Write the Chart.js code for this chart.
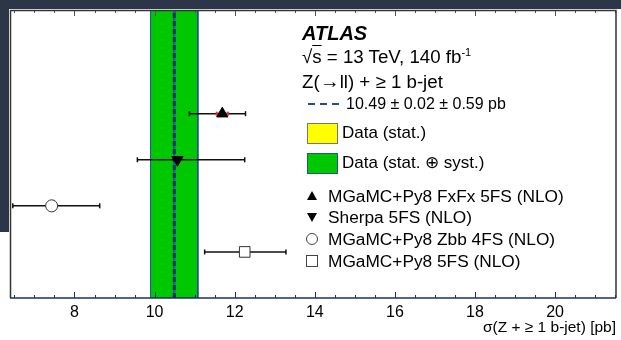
<!DOCTYPE html>
<html>
<head>
<meta charset="utf-8">
<script src="https://cdn.jsdelivr.net/npm/chart.js@4.4.1/dist/chart.umd.min.js"></script>
<style>
  html, body { margin: 0; padding: 0; background: #fff; }
  #wrap { position: relative; width: 621px; height: 340px; overflow: hidden;
          font-family: "Liberation Sans", Arial, sans-serif; color: #000; }
  .bar { position: absolute; background: #2d3548; }
  canvas { position: absolute; left: 0; top: 0; }
  .lab { position: absolute; white-space: nowrap; }
  .box { position: absolute; box-sizing: border-box; }
</style>
</head>
<body>
<div id="wrap">
  <div class="bar" style="left:0;top:0;width:621px;height:9px"></div>
  <div class="bar" style="left:0;top:0;width:9px;height:232px"></div>
  <canvas id="chart" width="621" height="340"></canvas>

  <div class="lab" style="left:302px;top:21px;font-size:20px;line-height:24px;font-weight:bold;font-style:italic">ATLAS</div>
  <div class="lab" style="left:302px;top:46px;font-size:18.7px;line-height:22px">√<span style="text-decoration:overline">s</span> = 13 TeV, 140 fb<sup style="font-size:11px;vertical-align:7px;line-height:0">-1</sup></div>
  <div class="lab" style="left:302px;top:70px;font-size:18.7px;line-height:22px">Z(<span style="font-size:20px">→</span>ll) + ≥ 1 b-jet</div>
  <svg class="box" style="left:307px;top:100px" width="36" height="8"><line x1="1" y1="4" x2="35" y2="4" stroke="#2b4c8c" stroke-width="2" stroke-dasharray="7 5"/></svg>
  <div class="lab" id="dataLabel" style="left:346px;top:94px;font-size:16px;line-height:20px"></div>
  <div class="box" style="left:307px;top:123px;width:31px;height:21px;background:#ffff00;border:1px solid #777"></div>
  <div class="lab" style="left:342px;top:122px;font-size:17px;line-height:22px">Data (stat.)</div>
  <div class="box" style="left:307px;top:153px;width:31px;height:21px;background:#00c800;border:1.5px solid #1b5e6e"></div>
  <div class="lab" style="left:342px;top:152px;font-size:17px;line-height:22px">Data (stat. ⊕ syst.)</div>
  <div id="modelKey"></div>
</div>

<script>
// measured cross-section (pb)
const dataValue = 10.49;
const dataStat = 0.02;
const dataSyst = 0.59;

// predictions
const models = ["MGaMC+Py8 FxFx 5FS (NLO)", "Sherpa 5FS (NLO)", "MGaMC+Py8 Zbb 4FS (NLO)", "MGaMC+Py8 5FS (NLO)"];
const modelRow = [4, 3, 2, 1];
const modelValue = [11.69, 10.57, 7.43, 12.25];
const modelLow = [10.87, 9.57, 6.46, 11.25];
const modelHigh = [12.27, 12.25, 8.63, 13.28];
// small red inner band on the FxFx prediction
const fxfxInner = [11.55, 11.83];

// axis
const xMin = 6.39;
const xMax = 21.52;
const yMax = 6.25;
const xTicks = [8, 10, 12, 14, 16, 18, 20];
const xMinorStep = 0.5;

const FONT = "Liberation Sans";
const markerStyle = ["triangle", "triangle", "circle", "rect"];
const markerRot = [0, 180, 0, 0];
const markerFill = ["#000", "#000", "#fff", "#fff"];
const markerEdge = ["#000", "#000", "#333", "#333"];
const markerSize = [6.5, 6.5, 6, 7.5];

const totalErr = Math.sqrt(dataStat * dataStat + dataSyst * dataSyst);

document.getElementById("dataLabel").textContent =
    dataValue.toFixed(2) + " ± " + dataStat.toFixed(2) + " ± " + dataSyst.toFixed(2) + " pb";

// legend for predictions
const keyRows = [195.5, 217, 239, 261];
const keyHtml = models.map(function(name, i) {
    let mark = "";
    const cy = keyRows[i];
    if (i === 0) {
        mark = `<div class="box" style="left:307px;top:${cy - 5}px;width:0;height:0;border-left:5px solid transparent;border-right:5px solid transparent;border-bottom:9px solid #000"></div>`;
    } else if (i === 1) {
        mark = `<div class="box" style="left:307px;top:${cy - 4}px;width:0;height:0;border-left:5px solid transparent;border-right:5px solid transparent;border-top:9px solid #000"></div>`;
    } else if (i === 2) {
        mark = `<div class="box" style="left:306px;top:${cy - 6}px;width:12px;height:12px;border:1px solid #444;border-radius:50%"></div>`;
    } else {
        mark = `<div class="box" style="left:306px;top:${cy - 6}px;width:12px;height:12px;border:1px solid #444"></div>`;
    }
    return mark + `<div class="lab" style="left:328px;top:${cy - 11}px;font-size:17.3px;line-height:22px">${name}</div>`;
}).join("");
document.getElementById("modelKey").innerHTML = keyHtml;

function bandPoints(lo, hi) {
    return [{x: lo, y: 0}, {x: lo, y: yMax}, {x: hi, y: yMax}, {x: hi, y: 0}];
}

const datasets = [];

// markers on top
datasets.push({
    data: modelValue.map((v, i) => ({x: v, y: modelRow[i]})),
    pointStyle: markerStyle,
    rotation: markerRot,
    pointRadius: markerSize,
    backgroundColor: markerFill,
    borderColor: markerEdge,
    borderWidth: 1,
    showLine: false,
    order: 0
});

// red inner bar
datasets.push({
    data: [{x: fxfxInner[0], y: modelRow[0]}, {x: fxfxInner[1], y: modelRow[0]}],
    showLine: true,
    borderColor: "#e8332a",
    borderWidth: 2,
    pointStyle: "line",
    rotation: 90,
    pointRadius: 2,
    pointBorderColor: "#e8332a",
    pointBorderWidth: 2,
    order: 1
});

// error bars
models.forEach(function(m, i) {
    datasets.push({
        data: [{x: modelLow[i], y: modelRow[i]}, {x: modelHigh[i], y: modelRow[i]}],
        showLine: true,
        borderColor: "#111",
        borderWidth: 1.5,
        pointStyle: "line",
        rotation: 90,
        pointRadius: 2.5,
        pointBorderColor: "#111",
        pointBorderWidth: 1.5,
        order: 2
    });
});

// central value: dashed line over a lighter blue line
datasets.push({
    data: [{x: dataValue, y: 0}, {x: dataValue, y: yMax}],
    showLine: true,
    borderColor: "#153063",
    borderWidth: 3,
    borderDash: [5, 3],
    pointRadius: 0,
    order: 3
});
datasets.push({
    data: [{x: dataValue, y: 0}, {x: dataValue, y: yMax}],
    showLine: true,
    borderColor: "#1f6690",
    borderWidth: 2.5,
    pointRadius: 0,
    order: 3.5
});

// stat band
datasets.push({
    data: bandPoints(dataValue - dataStat, dataValue + dataStat),
    showLine: true,
    fill: "origin",
    backgroundColor: "#ffff00",
    borderColor: "#ffff00",
    borderWidth: 0,
    pointRadius: 0,
    order: 4
});

// stat+syst band
datasets.push({
    data: bandPoints(dataValue - totalErr, dataValue + totalErr),
    showLine: true,
    fill: "origin",
    backgroundColor: "#00c800",
    borderColor: "#1e4f8a",
    borderWidth: 1,
    pointRadius: 0,
    order: 5
});

const framePlugin = {
    id: "frame",
    beforeDraw: function(chart) {
        const a = chart.chartArea;
        const ctx = chart.ctx;
        ctx.save();
        ctx.fillStyle = "#fff";
        ctx.fillRect(a.left, a.top, a.right - a.left, a.bottom - a.top);
        ctx.restore();
    },
    afterDatasetsDraw: function(chart) {
        const a = chart.chartArea;
        const ctx = chart.ctx;
        const xs = chart.scales.x;
        ctx.save();
        // ticks (inward, bottom and top)
        ctx.lineWidth = 1;
        for (let v = Math.ceil(xMin / xMinorStep) * xMinorStep; v <= xMax + 1e-9; v += xMinorStep) {
            const px = Math.round(xs.getPixelForValue(v)) + 0.5;
            const major = Math.abs(v / 2 - Math.round(v / 2)) < 1e-9;
            const len = major ? 6 : 3;
            ctx.strokeStyle = "#1e2b6e";
            ctx.beginPath();
            ctx.moveTo(px, a.bottom);
            ctx.lineTo(px, a.bottom - len);
            ctx.stroke();
            ctx.strokeStyle = "#555";
            ctx.beginPath();
            ctx.moveTo(px, a.top);
            ctx.lineTo(px, a.top + len);
            ctx.stroke();
        }
        // frame
        ctx.lineWidth = 1.5;
        ctx.strokeStyle = "#333";
        ctx.beginPath();
        ctx.moveTo(a.left + 0.5, a.bottom);
        ctx.lineTo(a.left + 0.5, a.top + 0.5);
        ctx.lineTo(a.right, a.top + 0.5);
        ctx.lineTo(a.right, a.bottom);
        ctx.stroke();
        ctx.strokeStyle = "#1e2b6e";
        ctx.beginPath();
        ctx.moveTo(a.left, a.bottom);
        ctx.lineTo(a.right, a.bottom);
        ctx.stroke();
        ctx.restore();
    }
};

new Chart(document.getElementById("chart"), {
    type: "scatter",
    data: {datasets: datasets},
    options: {
        responsive: false,
        animation: false,
        devicePixelRatio: 1,
        layout: {autoPadding: false, padding: {left: 10, top: 10, right: 5, bottom: 0}},
        plugins: {legend: {display: false}, tooltip: {enabled: false}},
        scales: {
            x: {
                type: "linear",
                min: xMin,
                max: xMax,
                grid: {display: false, drawTicks: false},
                border: {display: false},
                afterBuildTicks: function(s) { s.ticks = xTicks.map(v => ({value: v})); },
                afterFit: function(s) { s.height = 42; },
                ticks: {
                    color: "#000",
                    font: {family: FONT, size: 16},
                    padding: 5,
                    maxRotation: 0,
                    autoSkip: false
                },
                title: {
                    display: true,
                    text: "σ(Z + ≥ 1 b-jet) [pb]",
                    align: "end",
                    color: "#000",
                    font: {family: FONT, size: 15.5},
                    padding: {top: 0, bottom: 3}
                }
            },
            y: {type: "linear", min: 0, max: yMax, display: false}
        }
    },
    plugins: [framePlugin]
});
</script>
</body>
</html>
